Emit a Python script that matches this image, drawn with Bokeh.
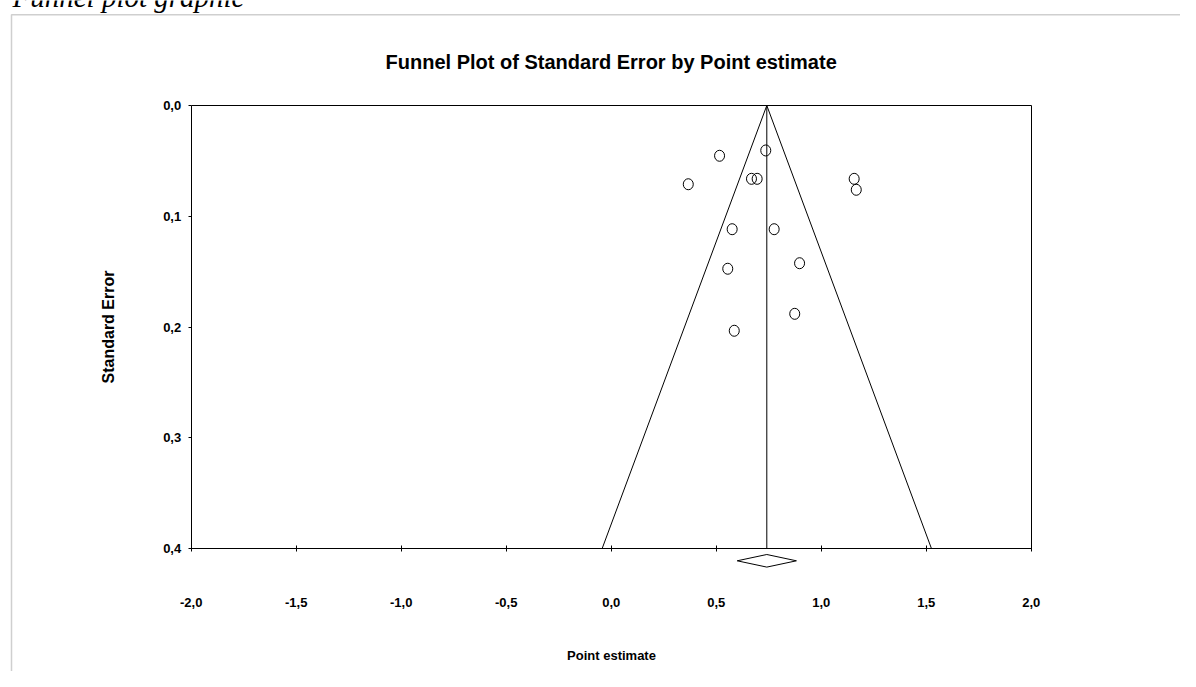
from bokeh.plotting import figure
from bokeh.models import (Range1d, FixedTicker, CustomJSTickFormatter, Label,
                          BoxAnnotation, LinearAxis, ColumnDataSource)
from bokeh.embed import file_html
from bokeh.resources import INLINE

# ---- data ----
study_est = [0.516, 0.736, 0.668, 0.695, 0.367, 1.157, 1.167, 0.576, 0.776,
             0.897, 0.555, 0.874, 0.586]
study_se = [0.0454, 0.0406, 0.0662, 0.0662, 0.0711, 0.0662, 0.0761, 0.1117,
            0.1117, 0.1424, 0.1474, 0.1881, 0.2034]
pooled_est = 0.741
pooled_ci = [0.600, 0.882]
funnel_x = [-0.043, 0.741, 1.525]
funnel_y = [0.4, 0.0, 0.4]
x_ticks = [-2.0, -1.5, -1.0, -0.5, 0.0, 0.5, 1.0, 1.5, 2.0]
x_tick_labels = ["-2,0", "-1,5", "-1,0", "-0,5", "0,0", "0,5", "1,0", "1,5", "2,0"]
y_ticks = [0.0, 0.1, 0.2, 0.3, 0.4]
y_tick_labels = ["0,0", "0,1", "0,2", "0,3", "0,4"]

FONT = "Liberation Sans"
W, H = 1180, 671
# plot box: x -2..2 over 840 px, y 0..0.4 over 443 px
PX_X = 210.0
PX_Y = 1107.5
X0_PX, Y0_PX = 610.7, 105.0

x_lo = (0 - X0_PX) / PX_X
x_hi = (W - X0_PX) / PX_X
y_top = (0 - Y0_PX) / PX_Y
y_bot = (H - Y0_PX) / PX_Y

p = figure(width=W, height=H, output_backend="svg", toolbar_location=None,
           x_range=Range1d(x_lo, x_hi), y_range=Range1d(y_bot, y_top),
           x_axis_location=None, y_axis_location=None,
           min_border=0, min_border_left=0, min_border_right=0,
           min_border_top=0, min_border_bottom=0)
p.background_fill_color = "white"
p.border_fill_color = "white"
p.outline_line_color = None
p.xgrid.visible = False
p.ygrid.visible = False

fmt_code = """
const i = vals.findIndex(v => Math.abs(v - tick) < 1e-9);
return i >= 0 ? labels[i] : '';
"""

def style_labels(ax):
    ax.major_label_text_font = FONT
    ax.major_label_text_font_size = "13px"
    ax.major_label_text_font_style = "bold"
    ax.major_label_text_color = "black"
    ax.axis_label_text_font = FONT
    ax.axis_label_text_font_style = "bold"
    ax.axis_label_text_color = "black"
    ax.axis_line_color = "black"
    ax.axis_line_width = 1
    ax.major_tick_line_color = "black"
    ax.minor_tick_line_color = None

xa = LinearAxis(fixed_location=y_ticks[-1], bounds=(x_ticks[0], x_ticks[-1]))
xa.ticker = FixedTicker(ticks=x_ticks)
xa.formatter = CustomJSTickFormatter(args=dict(vals=x_ticks, labels=x_tick_labels), code=fmt_code)
style_labels(xa)
xa.major_tick_in = 3
xa.major_tick_out = 3
xa.major_label_standoff = 46
xa.axis_label = "Point estimate"
xa.axis_label_standoff = 38
xa.axis_label_text_font_size = "13px"
p.add_layout(xa, "below")

ya = LinearAxis(fixed_location=x_ticks[0], bounds=(y_ticks[0], y_ticks[-1]))
ya.ticker = FixedTicker(ticks=y_ticks)
ya.formatter = CustomJSTickFormatter(args=dict(vals=y_ticks, labels=y_tick_labels), code=fmt_code)
style_labels(ya)
ya.major_tick_in = 0
ya.major_tick_out = 3
ya.major_label_standoff = 7
ya.axis_label = "Standard Error"
ya.axis_label_standoff = 43
ya.axis_label_text_font_size = "16px"
p.add_layout(ya, "left")

# top and right edges of the plot box
ta = LinearAxis(fixed_location=y_ticks[0], bounds=(x_ticks[0], x_ticks[-1]),
                ticker=FixedTicker(ticks=[]), major_tick_line_color=None,
                minor_tick_line_color=None, axis_line_color="black")
p.add_layout(ta, "above")
ra = LinearAxis(fixed_location=x_ticks[-1], bounds=(y_ticks[0], y_ticks[-1]),
                ticker=FixedTicker(ticks=[]), major_tick_line_color=None,
                minor_tick_line_color=None, axis_line_color="black")
p.add_layout(ra, "right")

# funnel (pseudo 95% limits) and pooled estimate line
p.line(funnel_x, funnel_y, line_color="black", line_width=1)
p.line([pooled_est, pooled_est], [y_ticks[0], y_ticks[-1]], line_color="black", line_width=1)

# studies
src = ColumnDataSource(dict(x=study_est, y=study_se))
p.ellipse(x="x", y="y", width=10, height=11, width_units="screen", height_units="screen",
          source=src, fill_color=None, line_color="black", line_width=1)

# pooled-estimate diamond below the axis
d_mid = y_ticks[-1] + 12.3 / PX_Y
d_half = 6.3 / PX_Y
p.patch([pooled_ci[0], pooled_est, pooled_ci[1], pooled_est],
        [d_mid, d_mid - d_half, d_mid, d_mid + d_half],
        fill_color="white", line_color="black", line_width=1)

# title
p.add_layout(Label(x=0.0, y=(61 - Y0_PX) / PX_Y,
                   text="Funnel Plot of Standard Error by Point estimate",
                   text_font=FONT, text_font_style="bold", text_font_size="20px",
                   text_color="black", text_align="center", text_baseline="middle"))

# outer document frame and (cut-off) caption
p.add_layout(BoxAnnotation(left=(11 - X0_PX) / PX_X, right=x_hi + 1,
                           top=(14.3 - Y0_PX) / PX_Y, bottom=y_bot + 1,
                           fill_alpha=0, line_color="#5f5f5f", line_width=1.5))
p.add_layout(Label(x=(12 - X0_PX) / PX_X, y=(-4 - Y0_PX) / PX_Y, text="Funnel plot graphic",
                   text_font="Liberation Serif", text_font_style="italic",
                   text_font_size="29px", text_color="black",
                   text_baseline="alphabetic", text_align="left"))

open("out.html", "w").write(file_html(p, INLINE))
